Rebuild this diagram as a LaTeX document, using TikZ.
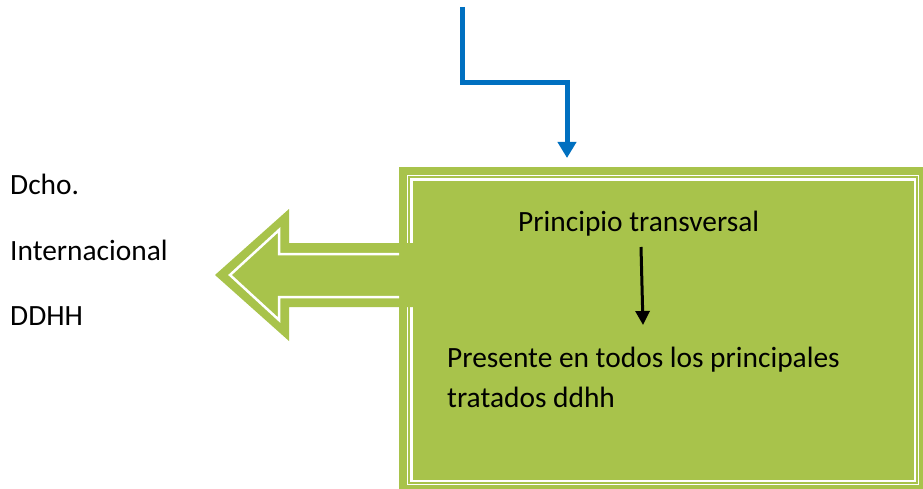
\documentclass[tikz,border=0pt]{standalone}
\usepackage{fontspec}
\setmainfont{Carlito}
\usetikzlibrary{arrows.meta,calc}
\definecolor{olivegreen}{RGB}{168,195,75}
\definecolor{linkblue}{RGB}{0,112,192}
\tikzset{
  lbl/.style={anchor=base west, inner sep=0pt, text=black, font=\fontsize{29.4}{40.5}\selectfont},
  bluelink/.style={draw=linkblue, line width=5pt, -{Triangle[width=18pt,length=16pt]}},
  blackarrow/.style={draw=black, line width=3pt, -{Triangle[width=14pt,length=14pt]}},
}
\begin{document}
\begin{tikzpicture}[x=1pt,y=-1pt]
\useasboundingbox (0,0) rectangle (923,489);
\clip (0,0) rectangle (923,489);
\fill[white] (0,0) rectangle (923,489);
% box
\node (box) [fill=olivegreen, minimum width=528pt, minimum height=326pt, anchor=north west, inner sep=0pt] at (399,167) {};
\draw[white, line width=1pt] ($(box.north west)+(8.5,8.5)$) rectangle ($(box.south east)+(-8.5,-8.5)$);
\draw[white, line width=2.2pt] ($(box.north west)+(12.5,12.5)$) rectangle ($(box.south east)+(-12.5,-12.5)$);
% left arrow
\fill[olivegreen] (215,275) -- (289,209) -- (289,243) -- (415,243) -- (415,307) -- (289,307) -- (289,341) -- cycle;
\draw[white, line width=2.5pt, line join=miter] (399,254) -- (279,254) -- (279,230) -- (230,275) -- (279,320) -- (279,297) -- (399,297);
% texts
\node (dcho) [lbl] at (10,195) {Dcho.};
\node (intl) [lbl] at (10,260) {Internacional};
\node (ddhh) [lbl] at (10,325) {DDHH};
\node (princ) [lbl] at (518,231) {Principio transversal};
\node (pres) [lbl] at (447,367) {Presente en todos los principales};
\node (trat) [lbl] at (447,407) {tratados ddhh};
% blue connector
\coordinate (ctop) at (462,7);
\coordinate (cbend) at (567,83);
\draw[bluelink] (ctop) |- (cbend) -- ([yshift=9pt]box.north -| cbend);
% black arrow
\coordinate (a1) at (641,247);
\coordinate (a2) at (643,325);
\draw[blackarrow] (a1) -- (a2);
\end{tikzpicture}
\end{document}
